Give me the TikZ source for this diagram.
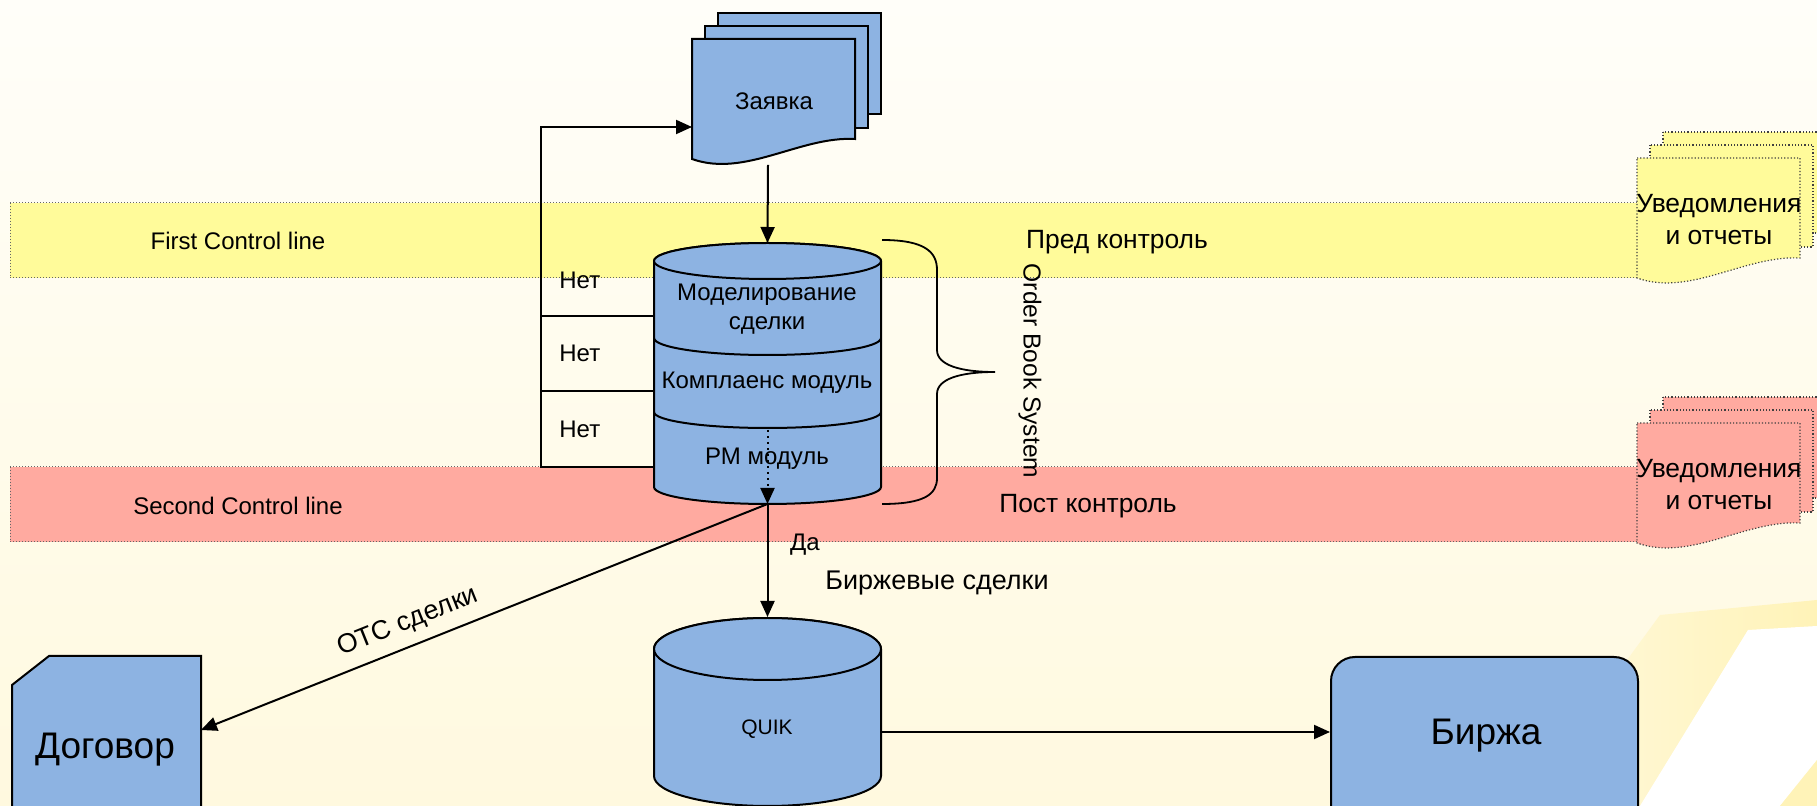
\documentclass[tikz,border=0pt]{standalone}
\usepackage{fontspec}
\setmainfont{Liberation Sans}
\usetikzlibrary{arrows.meta}
\definecolor{bgtop}{HTML}{FFFEF9}
\definecolor{bgbot}{HTML}{FFF9DF}
\definecolor{yband}{HTML}{FFFB9A}
\definecolor{rband}{HTML}{FFAAA0}
\definecolor{bluefill}{HTML}{8DB3E2}
\definecolor{yglow}{HTML}{FFF3B8}

\begin{document}
\begin{tikzpicture}[
  x=0.5pt, y=-0.5pt, font=\fontsize{12}{14.5}\selectfont,
  every node/.style={inner sep=1pt},
  band/.style={draw=gray!80!black, densely dotted, line width=0.5pt},
  blueshape/.style={draw, fill=bluefill, line width=1pt},
  conn/.style={line width=1pt, -{Triangle[length=8pt,width=7pt]}},
  big/.style={font=\fontsize{13.2}{16}\selectfont},
  huge/.style={font=\fontsize{18.5}{22}\selectfont},
  pics/docstack/.style={code={
    \path[pic actions] (26,-26) rectangle (189,75);
    \path[pic actions] (13,-13) rectangle (176,89);
    \path[pic actions] (0,0) -- (163,0) -- (163,100) .. controls (108,97) and (53,139) .. (0,120) -- cycle;
    \node[align=center] (-txt) at (82,62) {#1};
    \coordinate (-west) at (0,88);
    \coordinate (-south) at (76,126);
  }}
]
\useasboundingbox (0,0) rectangle (1817,806);
\clip (0,0) rectangle (1817,806);
\shade[top color=bgtop, bottom color=bgbot] (0,0) rectangle (1817,806);
\shade[left color=bgbot, right color=yglow] (1660,615) -- (1817,600) -- (1817,628) -- (1748,630) -- (1640,806) -- (1520,806) -- cycle;
\fill[white] (1748,630) -- (1817,626) -- (1817,760) -- (1780,806) -- (1640,806) -- cycle;
\fill[yglow] (1817,760) -- (1817,806) -- (1780,806) -- cycle;

\draw[band, fill=yband] (10,203) rectangle (1650,278);
\draw[band, fill=rband] (10,467) rectangle (1650,542);
\node (first) at (238,241) {First Control line};
\node (second) at (238,506) {Second Control line};
\node[big] (pre) at (1117,242) {Пред контроль};
\node[big] (post) at (1088,506) {Пост контроль};
\pic[fill=yband, draw=gray!50!black, densely dotted, line width=0.6pt, big] (ntop) at (1637,158) {docstack={Уведомления\\и отчеты}};
\pic[fill=rband, draw=gray!50!black, densely dotted, line width=0.6pt, big] (nbot) at (1637,423) {docstack={Уведомления\\и отчеты}};

\pic[fill=bluefill, draw, line width=1pt, font=\fontsize{12}{14}\selectfont] (zay) at (692,39) {docstack=Заявка};

\coordinate (fb1) at (654,316);
\coordinate (fb2) at (654,391);
\coordinate (fb3) at (654,467);
\coordinate (loop) at (541,467);
\draw[line width=1pt] (fb1) -- (fb1 -| loop);
\draw[line width=1pt] (fb2) -- (fb2 -| loop);
\draw[conn] (fb3) -- (loop) |- (zay-west);
\foreach \y/\n in {280/1,353/2,429/3}
  \node[anchor=west] (no\n) at (557,\y) {Нет};

\path[blueshape] (654,261) -- (654,487) arc[start angle=180, end angle=0, x radius=113.5, y radius=17]
  -- (881,261) arc[start angle=0, end angle=-180, x radius=113.5, y radius=18] -- cycle;
\draw[blueshape] (767.5,261) ellipse[x radius=113.5, y radius=18];
\draw[line width=1pt] (654,338) arc[start angle=180, end angle=0, x radius=113.5, y radius=17];
\draw[line width=1pt] (654,412) arc[start angle=180, end angle=0, x radius=113.5, y radius=16];
\node[align=center] (model) at (767,309) {Моделирование\\сделки};
\node (comp) at (767,383) {Комплаенс модуль};
\node (rm) at (767,459) {РМ модуль};
\coordinate (obstop) at (767.5,243);
\coordinate (rmdot) at (767.5,430);
\coordinate (split) at (767.5,504);
\draw[conn] (zay-south) -- (obstop);
\draw[conn, dotted] (rmdot) -- (split);

\draw[line width=0.9pt] (882,240) .. controls (925,240) and (937,252) .. (937,270) -- (937,350)
  .. controls (937,365) and (960,372) .. (995,372) .. controls (960,372) and (937,379) .. (937,394)
  -- (937,478) .. controls (937,494) and (925,504) .. (882,504);
\node[rotate=-90, font=\fontsize{12.3}{14}\selectfont] (obsname) at (1030,371) {Order Book System};

\path[blueshape] (654,649) -- (654,776) arc[start angle=180, end angle=0, x radius=113.5, y radius=30]
  -- (881,649) arc[start angle=0, end angle=-180, x radius=113.5, y radius=31] -- cycle;
\draw[blueshape] (767.5,649) ellipse[x radius=113.5, y radius=31];
\node[font=\fontsize{10.5}{12}\selectfont] (quik) at (767,729) {QUIK};
\coordinate (quiktop) at (767.5,617);
\coordinate (quikE) at (881,732);
\draw[conn] (split) -- (quiktop);
\node (yes) at (805,545) {Да};
\node[font=\fontsize{13.5}{16}\selectfont] (exch) at (937,583) {Биржевые сделки};

\node[blueshape, rounded corners=12pt, minimum width=153.5pt, minimum height=100pt, anchor=north west] (birzhabox) at (1330,656) {};
\node[huge] (birzha) at (1486,736) {Биржа};
\draw[conn] (quikE) -- (quikE -| birzhabox.west);

\draw[blueshape] (12,685) -- (49,656) -- (201,656) -- (201,850) -- (12,850) -- cycle;
\node[huge] (dog) at (105,750) {Договор};
\coordinate (dogE) at (201,730);
\draw[conn] (split) -- (dogE);
\node[rotate=21.8, font=\fontsize{13.4}{16}\selectfont] (otc) at (408,622) {OTC сделки};
\end{tikzpicture}
\end{document}
